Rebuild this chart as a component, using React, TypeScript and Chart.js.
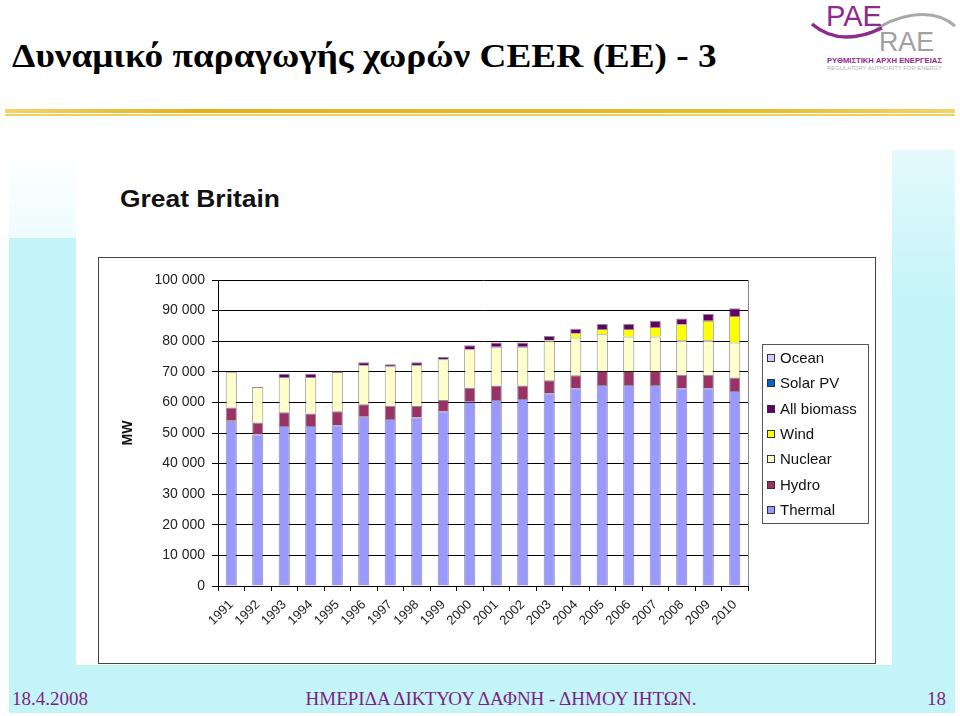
import React, { useEffect, useRef } from "react";
import { Chart, registerables } from "chart.js";

Chart.register(...registerables);

const years = ["1991", "1992", "1993", "1994", "1995", "1996", "1997", "1998", "1999", "2000", "2001", "2002", "2003", "2004", "2005", "2006", "2007", "2008", "2009", "2010"];
const thermal = [54000, 49500, 52300, 52300, 52500, 55300, 54600, 55100, 57100, 60200, 60800, 61100, 63000, 64600, 65700, 65700, 65700, 64600, 64600, 63700];
const hydro = [4300, 3900, 4500, 4100, 4600, 4100, 4300, 3700, 3700, 4600, 4700, 4400, 4200, 4300, 4600, 4600, 4600, 4400, 4400, 4400];
const nuclear = [11700, 11600, 11500, 11900, 12800, 12700, 12900, 13300, 13300, 12600, 12700, 12700, 13000, 12300, 12000, 11200, 11200, 11300, 11300, 11500];
const wind = [0, 0, 0, 0, 0, 0, 0, 0, 0, 0, 0, 0, 200, 1400, 1700, 2500, 3100, 5200, 6400, 8600];
const allBiomass = [0, 0, 1100, 1100, 400, 1000, 700, 1000, 800, 1300, 1400, 1400, 1300, 1500, 1600, 1600, 2100, 1900, 2200, 2600];
const solarPV = [0, 0, 0, 0, 0, 0, 0, 0, 0, 0, 0, 0, 0, 0, 0, 0, 0, 0, 0, 0];
const ocean = [0, 0, 0, 0, 0, 0, 0, 0, 0, 0, 0, 0, 0, 0, 0, 0, 0, 0, 0, 0];
const seriesNames = ["Thermal", "Hydro", "Nuclear", "Wind", "All biomass", "Solar PV", "Ocean"];
const seriesColors = ["#9999ff", "#993366", "#ffffcc", "#ffff00", "#660066", "#0066cc", "#ccccff"];

const FONT = "'Liberation Sans', Arial, sans-serif";
const SERIF = "'Liberation Serif', 'Times New Roman', serif";

function fmt(v: number) {
  return String(v).replace(/\B(?=(\d{3})+(?!\d))/g, " ");
}

const legendPlugin = {
  id: "boxLegend",
  afterDraw(chart: any) {
    const ctx = chart.ctx;
    const { right, top, bottom } = chart.chartArea;
    ctx.save();
    ctx.strokeStyle = "#8a8a8a";
    ctx.lineWidth = 1;
    ctx.beginPath();
    ctx.moveTo(Math.round(right) + 0.5, top);
    ctx.lineTo(Math.round(right) + 0.5, bottom);
    ctx.stroke();

    const bx = 663.5, by = 86.5, bw = 106, bh = 179;
    ctx.strokeStyle = "#555";
    ctx.strokeRect(bx, by, bw, bh);
    const ds = chart.data.datasets.slice().reverse();
    ds.forEach((d: any, i: number) => {
      const cy = Math.round(100 + i * 25.3);
      ctx.fillStyle = d.backgroundColor;
      ctx.fillRect(668, cy - 4, 8, 8);
      ctx.strokeStyle = "#333";
      ctx.strokeRect(668.5, cy - 3.5, 7, 7);
      ctx.fillStyle = "#111";
      ctx.font = `15px ${FONT}`;
      ctx.textBaseline = "middle";
      ctx.textAlign = "left";
      ctx.fillText(d.label, 681, cy + 1);
    });
    ctx.restore();
  },
};

function ChartBox() {
  const ref = useRef<HTMLCanvasElement | null>(null);
  useEffect(() => {
    if (!ref.current) return;
    const series = [thermal, hydro, nuclear, wind, allBiomass, solarPV, ocean];
    const chart = new Chart(ref.current, {
      type: "bar",
      data: {
        labels: years,
        datasets: series.map((data, i) => ({
          label: seriesNames[i],
          data,
          backgroundColor: seriesColors[i],
          borderColor: "rgba(45,45,45,0.55)",
          borderWidth: 1,
          barPercentage: 0.42,
          categoryPercentage: 1,
        })),
      },
      options: {
        responsive: false,
        animation: false,
        layout: { padding: { top: 22, right: 127, left: 0, bottom: 0 } },
        plugins: { legend: { display: false }, tooltip: { enabled: false } },
        scales: {
          x: {
            stacked: true,
            afterFit: (s: any) => { s.height = 77; },
            grid: { display: true, drawOnChartArea: false, drawTicks: true, tickLength: 5, color: "#000" },
            border: { color: "#000", width: 1 },
            ticks: {
              autoSkip: false,
              minRotation: 45,
              maxRotation: 45,
              padding: 6,
              color: "#222",
              font: { family: FONT, size: 13 },
            },
          },
          y: {
            stacked: true,
            min: 0,
            max: 100000,
            afterFit: (s: any) => { s.width = 119; },
            grid: { color: "#000", lineWidth: 1, drawTicks: true, tickLength: 6 },
            border: { color: "#000", width: 1 },
            ticks: {
              stepSize: 10000,
              padding: 7,
              color: "#222",
              font: { family: FONT, size: 14 },
              callback: (v: any) => fmt(Number(v)),
            },
            title: {
              display: true,
              text: "MW",
              color: "#111",
              font: { family: FONT, size: 14, weight: "bold" },
              padding: { top: 21, bottom: 0 },
            },
          },
        },
      },
      plugins: [legendPlugin],
    });
    return () => chart.destroy();
  }, []);
  return <canvas ref={ref} width={776} height={405} style={{ display: "block", width: 776, height: 405 }} />;
}

export default function App() {
  const cyan = "#c3f4f8";
  return (
    <div style={{ position: "fixed", left: 0, top: 0, width: 960, height: 716, overflow: "hidden", background: "#fff" }}>
      {/* background tint */}
      <div style={{ position: "absolute", left: 9, top: 238, width: 67, height: 430, background: cyan }} />
      <div style={{ position: "absolute", left: 9, top: 150, width: 67, height: 88, background: "linear-gradient(#ffffff, #eefcfd)" }} />
      <div style={{ position: "absolute", left: 892, top: 150, width: 63, height: 520, background: "linear-gradient(#e4fafc, #c3f4f8 30%, #c3f4f8)" }} />
      <div style={{ position: "absolute", left: 9, top: 665, width: 946, height: 48, background: cyan }} />

      {/* title */}
      <div style={{ position: "absolute", left: 12, top: 40, fontFamily: SERIF, fontWeight: "bold", fontSize: 33, lineHeight: "33px", color: "#000", whiteSpace: "nowrap", transform: "scaleX(1.13)", transformOrigin: "left top" }}>
        Δυναμικό παραγωγής χωρών CEER (ΕΕ) - 3
      </div>

      {/* logo */}
      <svg style={{ position: "absolute", left: 790, top: 0 }} width={170} height={80}>
        <path d="M 83 32 C 100 18, 140 4, 165 26" fill="none" stroke="#a9a9a9" strokeWidth={3} />
        <text x={36} y={26} fontFamily={FONT} fontSize={30} fill="#8e2a8e" textLength={56} lengthAdjust="spacingAndGlyphs">PAE</text>
        <path d="M 22 24 Q 50 48, 92 28" fill="none" stroke="#8e2a8e" strokeWidth={3.5} />
        <text x={89} y={51} fontFamily={FONT} fontSize={27} fill="#a0a0a0" textLength={55} lengthAdjust="spacingAndGlyphs">RAE</text>
        <text x={37} y={63} fontFamily={FONT} fontWeight="bold" fontSize={7} fill="#8e2a8e" textLength={115} lengthAdjust="spacingAndGlyphs">ΡΥΘΜΙΣΤΙΚΗ ΑΡΧΗ ΕΝΕΡΓΕΙΑΣ</text>
        <text x={37} y={70} fontFamily={FONT} fontSize={5.5} fill="#b0b0b0" textLength={115} lengthAdjust="spacingAndGlyphs">REGULATORY AUTHORITY FOR ENERGY</text>
      </svg>

      {/* gold rule */}
      <div style={{ position: "absolute", left: 5, top: 109, width: 950, height: 4, background: "linear-gradient(90deg, #f2d36a, #e3b11c 20%, #e8bc2e 80%, #f2d36a)" }} />
      <div style={{ position: "absolute", left: 5, top: 114, width: 950, height: 2, background: "#f1cf60" }} />

      {/* chart panel */}
      <div style={{ position: "absolute", left: 120, top: 187, fontFamily: FONT, fontWeight: "bold", fontSize: 24, lineHeight: "24px", color: "#111", whiteSpace: "nowrap", transform: "scaleX(1.1)", transformOrigin: "left top" }}>
        Great Britain
      </div>
      <div style={{ position: "absolute", left: 98, top: 257, border: "1px solid #444", background: "#fff" }}>
        <ChartBox />
      </div>

      {/* footer */}
      <div style={{ position: "absolute", left: 12, top: 689, fontFamily: SERIF, fontSize: 19, lineHeight: "19px", color: "#7f1f7f", whiteSpace: "nowrap" }}>18.4.2008</div>
      <div style={{ position: "absolute", left: 200, width: 602, top: 689, textAlign: "center", fontFamily: SERIF, fontSize: 19, lineHeight: "19px", color: "#7f1f7f", whiteSpace: "nowrap" }}>
        ΗΜΕΡΙΔΑ ΔΙΚΤΥΟΥ ΔΑΦΝΗ - ΔΗΜΟΥ ΙΗΤΩΝ.
      </div>
      <div style={{ position: "absolute", right: 14, top: 689, fontFamily: SERIF, fontSize: 19, lineHeight: "19px", color: "#7f1f7f", whiteSpace: "nowrap" }}>18</div>
    </div>
  );
}
